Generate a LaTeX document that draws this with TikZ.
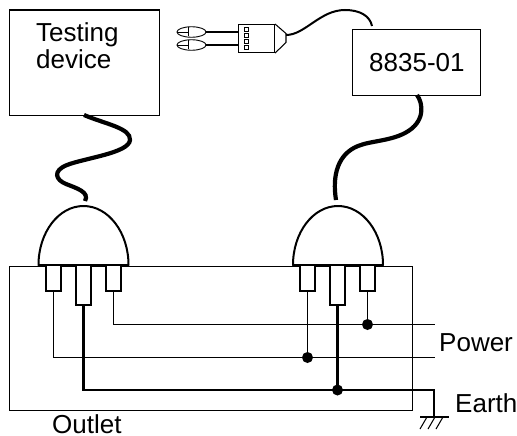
\documentclass[tikz,border=0pt]{standalone}
\usepackage{fontspec}
\setmainfont{Liberation Sans}
\usetikzlibrary{shapes.geometric}
\tikzset{
  thinl/.style={line width=1.05pt},
  medl/.style={line width=2pt},
  thickl/.style={line width=2.8pt},
  cablel/.style={line width=4.2pt},
  boxn/.style={draw,thinl,inner sep=0pt,anchor=north west},
  lab/.style={inner sep=0pt,anchor=base west,font=\fontsize{26}{27}\selectfont},
  dot/.style={circle,fill=black,inner sep=0pt,minimum size=11pt},
  pinshort/.style={draw,medl,fill=white,inner sep=0pt,outer sep=0pt,minimum width=14.5pt,minimum height=26pt,anchor=north},
  pinlong/.style={draw,medl,fill=white,inner sep=0pt,outer sep=0pt,minimum width=14.5pt,minimum height=39.5pt,anchor=north},
  tip/.style={draw,ellipse,line width=.9pt,inner sep=0pt,minimum width=29pt,minimum height=10.5pt},
  sq/.style={draw,line width=.8pt,inner sep=0pt,minimum width=4.5pt,minimum height=4pt},
}
\begin{document}
\begin{tikzpicture}[x=1pt,y=-1pt]
\useasboundingbox (0,0) rectangle (517,436);
% boxes
\node[boxn,minimum width=150pt,minimum height=105pt] (testing) at (8.5,9.5) {};
\node[lab,align=left,anchor=north west] (testingtext) at (36,22.5) {Testing\\device};
\node[boxn,minimum width=128pt,minimum height=66pt] (meter) at (352,29) {};
\node[lab] (metertext) at (369,72) {8835-01};
\node[boxn,minimum width=403.5pt,minimum height=144pt] (outlet) at (8.5,265.5) {};
% wires
\coordinate (pe) at (434,390);
\coordinate (gnd) at (434,417);
\coordinate (p1e) at (435,324.5);
\coordinate (p2e) at (435,357.5);
\node[pinshort] (l1) at (53.5,265) {};
\node[pinlong] (l2) at (83.5,265) {};
\node[pinshort] (l3) at (113.5,265) {};
\node[pinshort] (r1) at (307.5,265) {};
\node[pinlong] (r2) at (337.5,265) {};
\node[pinshort] (r3) at (367.5,265) {};
\node[dot] (d1) at (367.5,324.5) {};
\node[dot] (d2) at (307.5,357.5) {};
\node[dot] (d3) at (337.5,390) {};
\draw[thinl] (l3.south) |- (p1e);
\draw[thinl] (l1.south) |- (p2e);
\draw[thickl,line join=miter] (l2.south) |- (pe) -- (gnd);
\draw[thinl] (r3.south) -- (d1.center);
\draw[thinl] (r1.south) -- (d2.center);
\draw[thickl] (r2.south) -- (d3.center);
% ground
\coordinate (g1) at (420,417);
\coordinate (g2) at (449,417);
\draw[thinl] (g1) -- (g2);
\draw[thinl] (427,417) -- (420,429) (435,417) -- (428,429) (443,417) -- (436,429);
% domes
\coordinate (dl) at (38.5,265);
\coordinate (dr) at (293,265);
\draw[medl,fill=white,line join=round] (dl) arc[start angle=180,end angle=0,x radius=45,y radius=-59] -- cycle;
\draw[medl,fill=white,line join=round] (dr) arc[start angle=180,end angle=0,x radius=45,y radius=-59] -- cycle;
\node[pinshort] at (53.5,265) {};
\node[pinlong] at (83.5,265) {};
\node[pinshort] at (113.5,265) {};
\node[pinshort] at (307.5,265) {};
\node[pinlong] at (337.5,265) {};
\node[pinshort] at (367.5,265) {};
% cables
\coordinate (c1a) at (84,115);
\coordinate (c1b) at (85,201);
\draw[cablel] (c1a) .. controls (105,124) and (131,128) .. (130,140)
  .. controls (129,153) and (85,158) .. (67,165)
  .. controls (52,171) and (56,180) .. (66,184)
  .. controls (76,188) and (90,192) .. (c1b);
\coordinate (c2a) at (417,95);
\coordinate (c2b) at (336,200);
\draw[cablel] (c2a) .. controls (423,103) and (426,122) .. (405,133)
  .. controls (390,141) and (370,141) .. (358,146)
  .. controls (338,154) and (332,175) .. (c2b);
% probe
\node[draw,thinl,inner sep=0pt,minimum width=36pt,minimum height=28pt,anchor=north west] (body) at (238,24) {};
\coordinate (n1) at (286,33.5);
\coordinate (n2) at (286,42.5);
\draw[thinl] (body.north east) -- (n1) -- (n2) -- (body.south east);
\node[tip] (t1) at (191.5,32) {};
\node[tip] (t2) at (191.5,45) {};
\draw[thinl] (t1.east) -- (t1.east -| body.west);
\draw[thinl] (t2.east) -- (t2.east -| body.west);
\draw[line width=.8pt] (t1.west) -- (188,32) (188,27.5) -- (188,36.5);
\draw[line width=.8pt] (t2.west) -- (188,45) (188,40.5) -- (188,49.5);
\node[sq] at (246.5,29) {};
\node[sq] at (246.5,35) {};
\node[sq] at (246.5,41) {};
\node[sq] at (246.5,47) {};
\coordinate (c3a) at (286,35);
\coordinate (c3b) at (372,26);
\draw[line width=2pt] (c3a) .. controls (305,35) and (320,10) .. (345,10) .. controls (360,10) and (370,16) .. (c3b);
% labels
\node[lab] (power) at (439,351) {Power};
\node[lab] (earth) at (455,412) {Earth};
\node[lab] (outlett) at (52,433.5) {Outlet};
\end{tikzpicture}
\end{document}
